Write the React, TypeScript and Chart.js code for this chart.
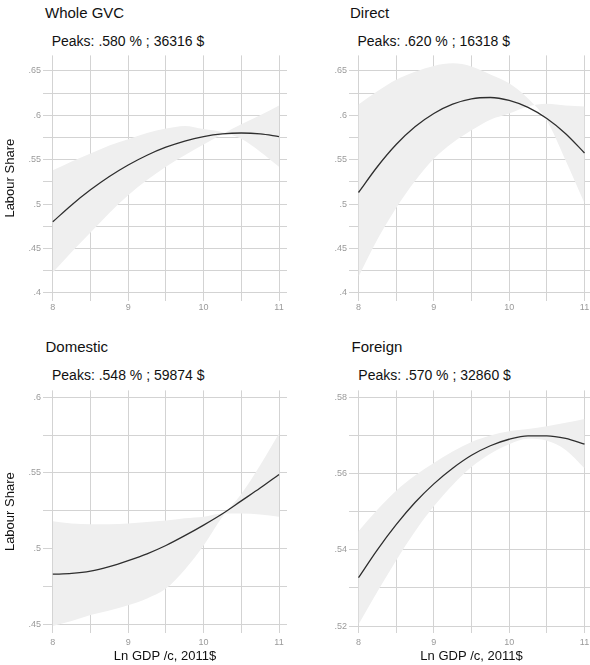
import React, { useEffect, useRef } from "react";
import { Chart, registerables } from "chart.js";

Chart.register(...registerables);

const FONT = "'Liberation Sans', Arial, Helvetica, sans-serif";
Chart.defaults.font.family = FONT;

// ---- data ----
const lnGdp = [8, 8.25, 8.5, 8.75, 9, 9.25, 9.5, 9.75, 10, 10.25, 10.5, 10.75, 11];

const xTicks = [8, 8.5, 9, 9.5, 10, 10.5, 11];
const xTickLabels = ["8", "", "9", "", "10", "", "11"];

const topYTicks = [0.4, 0.425, 0.45, 0.475, 0.5, 0.525, 0.55, 0.575, 0.6, 0.625, 0.65];
const topYTickLabels = [".4", "", ".45", "", ".5", "", ".55", "", ".6", "", ".65"];
const domYTicks = [0.45, 0.475, 0.5, 0.525, 0.55, 0.575, 0.6];
const domYTickLabels = [".45", "", ".5", "", ".55", "", ".6"];
const forYTicks = [0.52, 0.53, 0.54, 0.55, 0.56, 0.57, 0.58];
const forYTickLabels = [".52", "", ".54", "", ".56", "", ".58"];

const gvcFit = [0.48, 0.499, 0.516, 0.531, 0.544, 0.555, 0.564, 0.571, 0.576, 0.579, 0.58, 0.579, 0.576];
const gvcBandA = [0.538, 0.548, 0.557, 0.566, 0.573, 0.58, 0.585, 0.588, 0.5845, 0.581, 0.5735, 0.559, 0.542];
const gvcBandB = [0.423, 0.446, 0.468, 0.49, 0.51, 0.527, 0.542, 0.555, 0.567, 0.579, 0.59, 0.6, 0.611];

const dirFit = [0.513, 0.542, 0.567, 0.587, 0.602, 0.6125, 0.6185, 0.62, 0.6167, 0.6088, 0.5963, 0.5792, 0.5575];
const dirBandA = [0.612, 0.627, 0.64, 0.649, 0.6556, 0.6585, 0.655, 0.646, 0.636, 0.619, 0.594, 0.549, 0.501];
const dirBandB = [0.418, 0.46, 0.4956, 0.526, 0.551, 0.569, 0.583, 0.595, 0.602, 0.61, 0.613, 0.611, 0.61];

const domFit = [0.483, 0.4835, 0.485, 0.488, 0.492, 0.4965, 0.502, 0.5085, 0.5155, 0.523, 0.5315, 0.54, 0.549];
const domBandA = [0.518, 0.5165, 0.516, 0.516, 0.5165, 0.5175, 0.5185, 0.52, 0.521, 0.5232, 0.5232, 0.5225, 0.521];
const domBandB = [0.4487, 0.452, 0.456, 0.459, 0.4625, 0.467, 0.4735, 0.486, 0.502, 0.521, 0.536, 0.555, 0.576];

const forFit = [0.5327, 0.54, 0.5466, 0.5524, 0.5573, 0.5614, 0.5648, 0.5673, 0.569, 0.5699, 0.5699, 0.5692, 0.5677];
const forBandA = [0.5449, 0.5505, 0.5555, 0.5595, 0.5628, 0.5658, 0.5683, 0.57, 0.5711, 0.5717, 0.5724, 0.5733, 0.5743];
const forBandB = [0.5204, 0.529, 0.5372, 0.5448, 0.5514, 0.557, 0.5617, 0.5652, 0.5677, 0.5691, 0.5686, 0.5662, 0.5614];

const panelTitles = ["Whole GVC", "Direct", "Domestic", "Foreign"];
const panelPeaks = [
  "Peaks: .580 % ; 36316 $",
  "Peaks: .620 % ; 16318 $",
  "Peaks: .548 % ; 59874 $",
  "Peaks: .570 % ; 32860 $",
];
const yAxisTitle = "Labour Share";
const xAxisTitle = "Ln GDP /c, 2011$";

// ---- styles ----
const GRID = "#d3d3d3";
const BAND = "#efefef";
const LINE = "#2e2e2e";
const TICK = "#9a9a9a";

type PanelProps = {
  left: number;
  top: number;
  w: number;
  h: number;
  padTop: number;
  padRight: number;
  xAxisH: number;
  xPad: number;
  xMin: number;
  xMax: number;
  yMin: number;
  yMax: number;
  yTicks: number[];
  yTickLabels: string[];
  fit: number[];
  bandA: number[];
  bandB: number[];
  showY: boolean;
  showX: boolean;
};

function Panel(p: PanelProps) {
  const ref = useRef<HTMLCanvasElement>(null);
  useEffect(() => {
    const pts = (arr: number[]) => lnGdp.map((x, i) => ({ x, y: arr[i] }));
    const chart = new Chart(ref.current as HTMLCanvasElement, {
      type: "line",
      data: {
        datasets: [
          {
            data: pts(p.fit),
            borderColor: LINE,
            borderWidth: 1.3,
            pointRadius: 0,
            fill: false,
            cubicInterpolationMode: "monotone",
          },
          {
            data: pts(p.bandA),
            borderColor: "rgba(0,0,0,0)",
            borderWidth: 0,
            pointRadius: 0,
            backgroundColor: BAND,
            fill: { target: 2, above: BAND, below: BAND },
            cubicInterpolationMode: "monotone",
          },
          {
            data: pts(p.bandB),
            borderColor: "rgba(0,0,0,0)",
            borderWidth: 0,
            pointRadius: 0,
            fill: false,
            cubicInterpolationMode: "monotone",
          },
        ],
      } as any,
      options: {
        responsive: false,
        animation: false,
        events: [],
        layout: { padding: { top: p.padTop, right: p.padRight, left: 0, bottom: 0 } },
        plugins: {
          legend: { display: false },
          tooltip: { enabled: false },
        },
        scales: {
          x: {
            type: "linear",
            min: p.xMin,
            max: p.xMax,
            afterBuildTicks: (s: any) => {
              s.ticks = xTicks.map((v) => ({ value: v }));
            },
            afterFit: (s: any) => {
              s.height = p.xAxisH;
            },
            grid: { color: GRID, lineWidth: 1, drawTicks: false },
            border: { display: false },
            ticks: {
              autoSkip: false,
              maxRotation: 0,
              padding: p.xPad,
              color: TICK,
              font: { size: 9 },
              callback: (_v: any, i: number) => xTickLabels[i],
            },
            title: {
              display: p.showX,
              text: xAxisTitle,
              color: "#111",
              font: { size: 13 },
              padding: { top: 0, bottom: 0.5 },
            },
          },
          y: {
            type: "linear",
            min: p.yMin,
            max: p.yMax,
            afterBuildTicks: (s: any) => {
              s.ticks = p.yTicks.map((v) => ({ value: v }));
            },
            afterFit: (s: any) => {
              s.width = 43;
            },
            grid: { color: GRID, lineWidth: 1, drawTicks: false },
            border: { display: false },
            ticks: {
              autoSkip: false,
              padding: 2,
              color: TICK,
              font: { size: 9 },
              callback: (_v: any, i: number) => p.yTickLabels[i],
            },
            title: {
              display: p.showY,
              text: yAxisTitle,
              color: "#111",
              font: { size: 13 },
              padding: { top: 2.7, bottom: 0 },
            },
          },
        },
      } as any,
    });
    return () => chart.destroy();
  }, []);
  return (
    <canvas
      ref={ref}
      width={p.w}
      height={p.h}
      style={{ position: "absolute", left: p.left, top: p.top }}
    />
  );
}

const titleStyle = (left: number, top: number, size: number): React.CSSProperties => ({
  position: "absolute",
  left,
  top,
  fontFamily: FONT,
  fontSize: size,
  lineHeight: `${size}px`,
  color: "#111",
  whiteSpace: "nowrap",
});

export default function App() {
  const topCommon = { top: 48, h: 272, padTop: 4, xAxisH: 19, xPad: 1, yMin: 0.39078, yMax: 0.66744, yTicks: topYTicks, yTickLabels: topYTickLabels, showX: false };
  const botCommon = { top: 383, h: 282, padTop: 4, xAxisH: 32, xPad: 4, showX: true };
  const leftCommon = { left: 0, w: 300, padRight: 13, xMin: 7.87, xMax: 11.106 };
  const rightCommon = { left: 306, w: 300, padRight: 12, xMin: 7.874, xMax: 11.126 };
  return (
    <div
      style={{
        position: "absolute",
        left: 0,
        top: 0,
        width: 590,
        height: 665,
        overflow: "hidden",
        background: "#fff",
      }}
    >
      <div style={titleStyle(45, 4.6, 15)}>{panelTitles[0]}</div>
      <div style={titleStyle(51.7, 33.9, 14)}>{panelPeaks[0]}</div>
      <div style={titleStyle(350, 4.6, 15)}>{panelTitles[1]}</div>
      <div style={titleStyle(357.5, 33.9, 14)}>{panelPeaks[1]}</div>
      <div style={titleStyle(45.5, 338.8, 15)}>{panelTitles[2]}</div>
      <div style={titleStyle(52, 367.5, 14)}>{panelPeaks[2]}</div>
      <div style={titleStyle(351.5, 338.8, 15)}>{panelTitles[3]}</div>
      <div style={titleStyle(358.3, 367.5, 14)}>{panelPeaks[3]}</div>

      <Panel {...topCommon} {...leftCommon} fit={gvcFit} bandA={gvcBandA} bandB={gvcBandB} showY={true} />
      <Panel {...topCommon} {...rightCommon} fit={dirFit} bandA={dirBandA} bandB={dirBandB} showY={false} />
      <Panel
        {...botCommon}
        {...leftCommon}
        yMin={0.44413}
        yMax={0.60457}
        yTicks={domYTicks}
        yTickLabels={domYTickLabels}
        fit={domFit}
        bandA={domBandA}
        bandB={domBandB}
        showY={true}
      />
      <Panel
        {...botCommon}
        {...rightCommon}
        yMin={0.51819}
        yMax={0.58181}
        yTicks={forYTicks}
        yTickLabels={forYTickLabels}
        fit={forFit}
        bandA={forBandA}
        bandB={forBandB}
        showY={false}
      />
    </div>
  );
}
